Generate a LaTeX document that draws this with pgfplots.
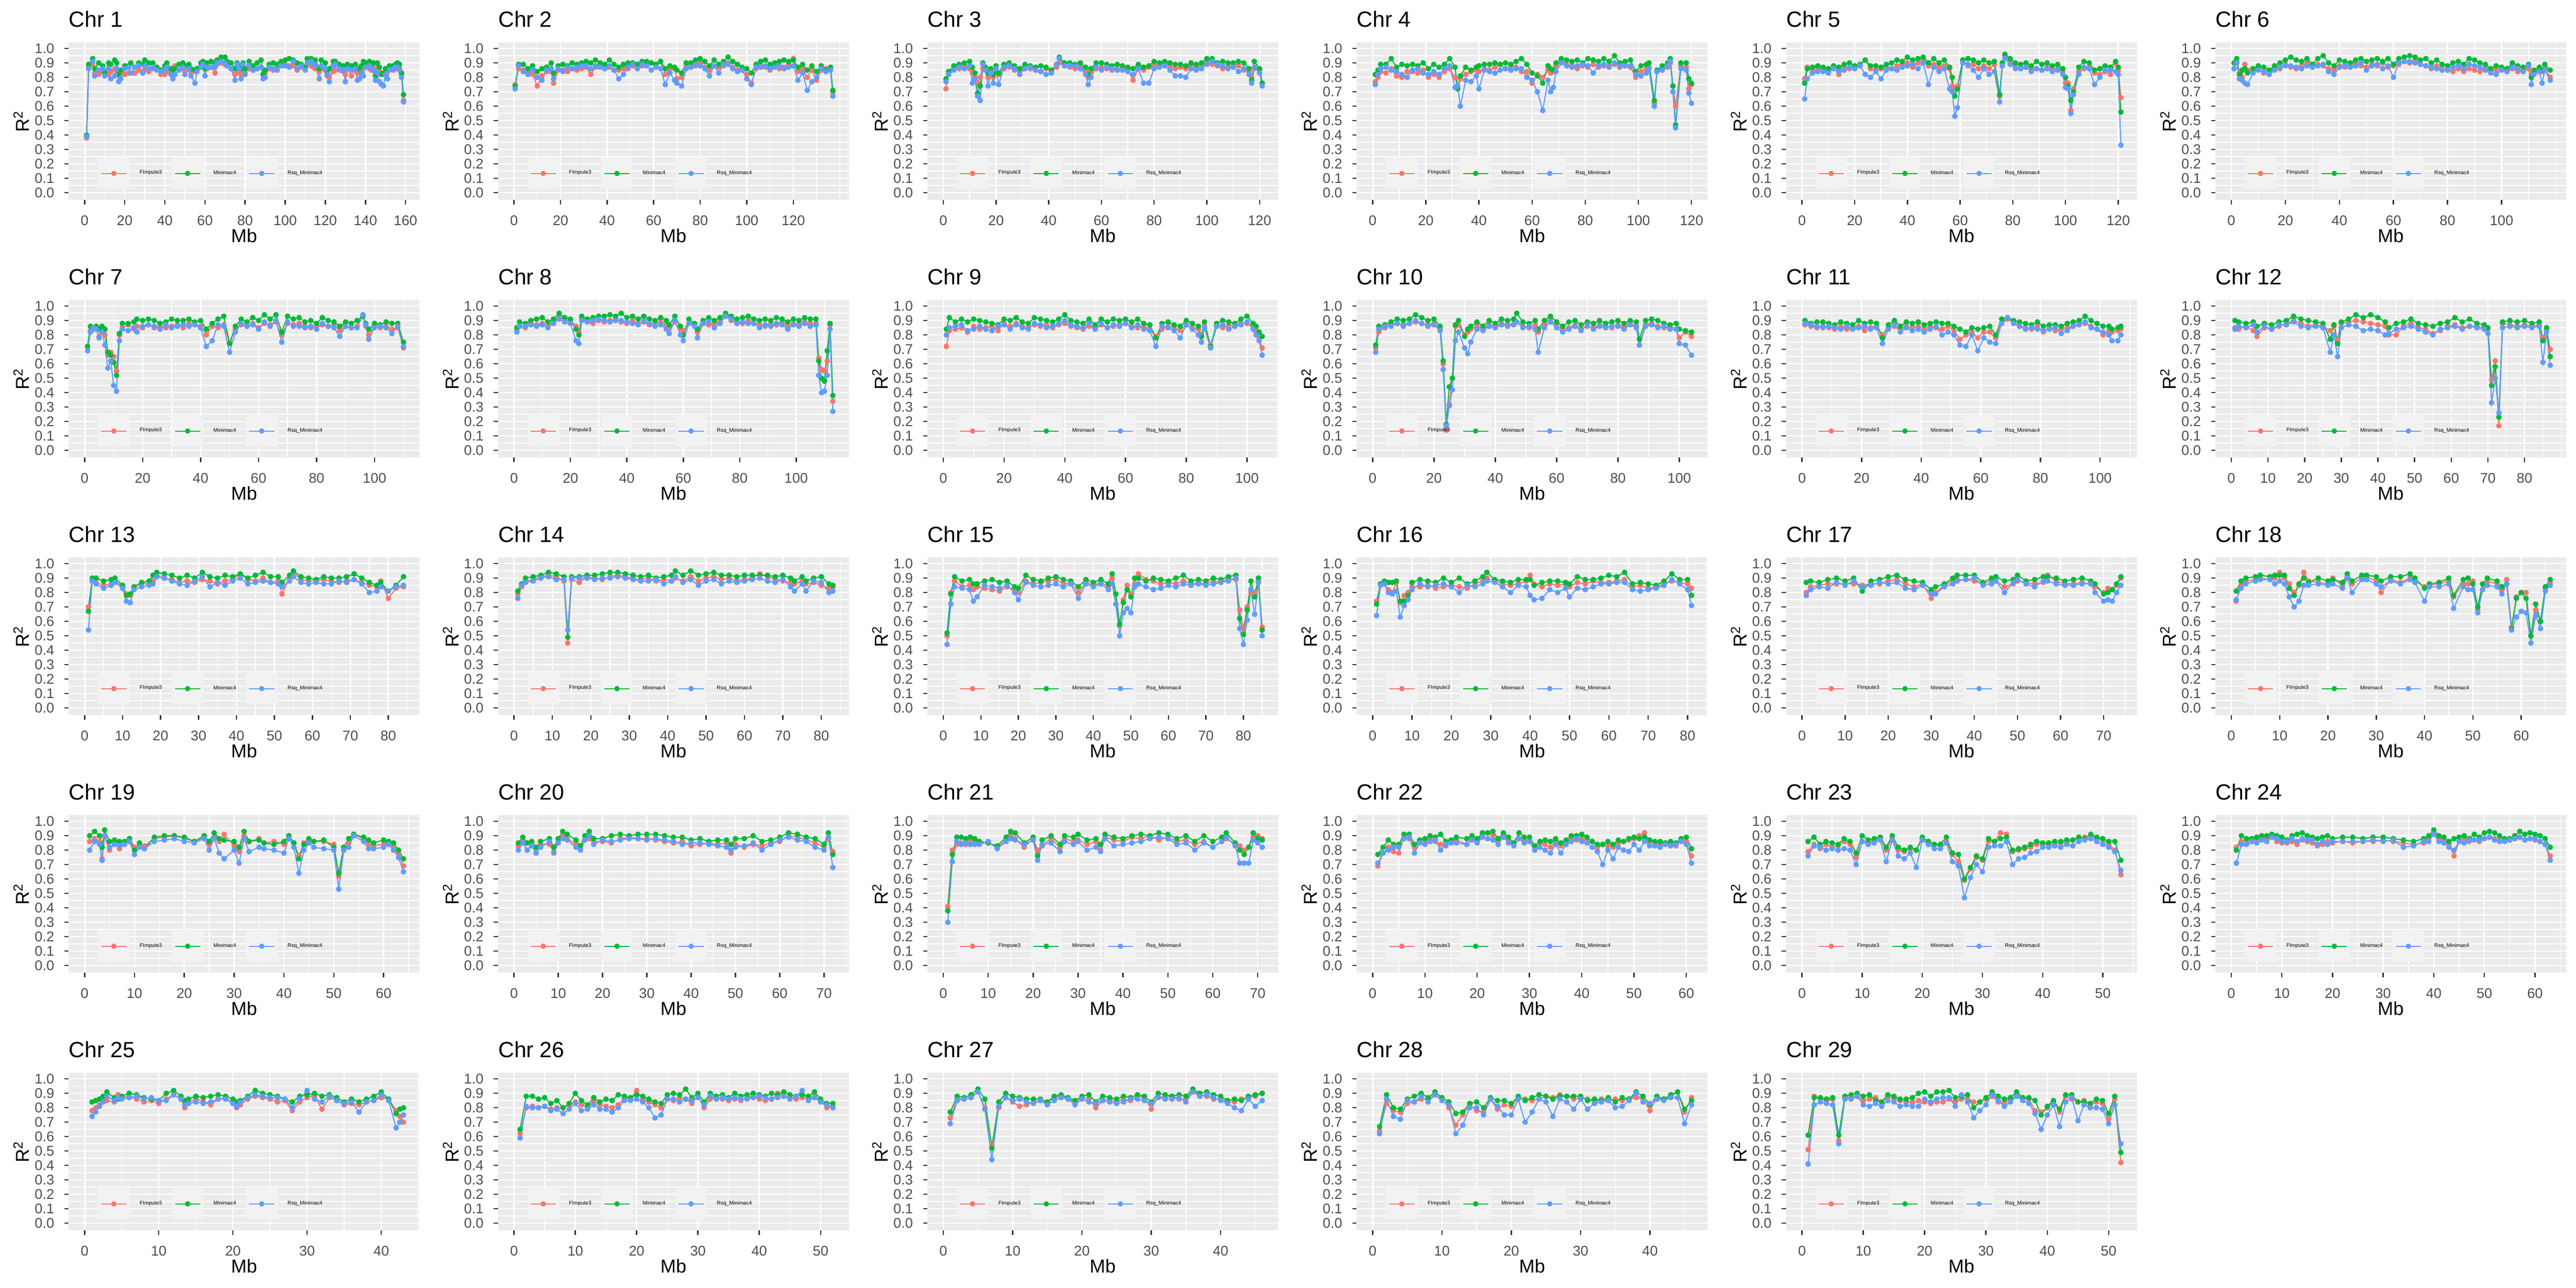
\documentclass[border=0pt]{standalone}
\usepackage{fontspec}
\setmainfont{Liberation Sans}
\usepackage{pgfplots}
\usepackage{pgfplotstable}
\pgfplotsset{compat=1.18}
\definecolor{cR}{HTML}{F8766D}
\definecolor{cG}{HTML}{00BA38}
\definecolor{cB}{HTML}{619CFF}
\definecolor{pbg}{HTML}{EBEBEB}
\definecolor{kbg}{HTML}{F2F2F2}
\definecolor{g30}{HTML}{4D4D4D}
\definecolor{g20}{HTML}{333333}

\pgfplotsset{
 every axis title shift=0pt,
 lnR/.style={cR, line width=0.75pt, no marks, forget plot},
 lnG/.style={cG, line width=0.75pt, no marks, forget plot},
 lnB/.style={cB, line width=0.75pt, no marks, forget plot},
 mkR/.style={cR, only marks, mark=*, mark size=1.65pt, mark options={draw=none, fill=cR},
   legend image code/.code={\fill[kbg] (0cm,-0.36cm) rectangle (0.72cm,0.36cm);
     \draw[cR,line width=0.75pt] (0.065cm,0cm)--(0.655cm,0cm);
     \fill[cR] (0.36cm,0cm) circle[radius=0.055cm];}},
 mkG/.style={cG, only marks, mark=*, mark size=1.65pt, mark options={draw=none, fill=cG},
   legend image code/.code={\fill[kbg] (0cm,-0.36cm) rectangle (0.72cm,0.36cm);
     \draw[cG,line width=0.75pt] (0.065cm,0cm)--(0.655cm,0cm);
     \fill[cG] (0.36cm,0cm) circle[radius=0.055cm];}},
 mkB/.style={cB, only marks, mark=*, mark size=1.65pt, mark options={draw=none, fill=cB},
   legend image code/.code={\fill[kbg] (0cm,-0.36cm) rectangle (0.72cm,0.36cm);
     \draw[cB,line width=0.75pt] (0.065cm,0cm)--(0.655cm,0cm);
     \fill[cB] (0.36cm,0cm) circle[radius=0.055cm];}},
 pan/.style={
  scale only axis, width=8.17cm, height=3.67cm, anchor=south west,
  ymin=-0.0506, ymax=1.0417,
  ytick={0,0.1,0.2,0.3,0.4,0.5,0.6,0.7,0.8,0.9,1},
  minor ytick={0.05,0.15,0.25,0.35,0.45,0.55,0.65,0.75,0.85,0.95},
  grid=both,
  major grid style={white, line width=0.85pt},
  minor grid style={white, line width=0.45pt},
  axis background/.style={fill=pbg},
  axis line style={draw=none},
  tick align=outside, tick pos=left,
  major tick length=0.1cm, minor tick length=0pt,
  major tick style={g20, line width=0.85pt},
  minor tick style={draw=none},
  scaled ticks=false,
  /pgf/number format/assume math mode=true,
  ticklabel style={g30, font=\fontsize{9.3}{11}\selectfont},
  yticklabel style={/pgf/number format/.cd, fixed, fixed zerofill, precision=1, /tikz/.cd, anchor=east, inner sep=0pt, xshift=-0.23cm},
  xticklabel style={anchor=north, inner sep=0pt, yshift=-0.26cm},
  title style={at={(0,1.0981)}, anchor=base west, inner sep=0pt, font=\fontsize{14.6}{17}\selectfont},
  xlabel=Mb, ylabel={R\textsuperscript{2}},
  xlabel style={at={(axis description cs:0.5,-0.2698)}, anchor=base, inner sep=0pt, font=\fontsize{12.4}{15}\selectfont},
  ylabel style={at={(axis description cs:-0.1126,0.5)}, anchor=base, rotate=0, inner sep=0pt, font=\fontsize{12.4}{15}\selectfont},
  legend columns=3, legend cell align=left,
  legend style={at={(0.0838,0.169)}, anchor=west, draw=none, fill=none, inner sep=0pt, outer sep=0pt,
    font=\fontsize{3.5}{4.2}\selectfont, nodes={inner sep=0pt},
    /tikz/every odd column/.append style={column sep=0.235cm},
    /tikz/every even column/.append style={column sep=0.23cm}},
 }
}

\newcommand{\panel}[8]{%
\begin{axis}[pan, at={(#1cm,#2cm)}, title={Chr #3}, xmin=#4, xmax=#5, xtick={#6}, minor xtick={#7}]
\addplot[lnR] table[x=x,y=f]{#8};
\addplot[lnG] table[x=x,y=m]{#8};
\addplot[lnB] table[x=x,y=r]{#8};
\addplot[mkR] table[x=x,y=f]{#8};
\addplot[mkG] table[x=x,y=m]{#8};
\addplot[mkB] table[x=x,y=r]{#8};
\legend{FImpute3,Minimac4,Rsq\_Minimac4}
\end{axis}}

\pgfplotstableread{
x f m r
1 0.38 0.40 0.39
2 0.87 0.89 0.86
4 0.89 0.93 0.91
5 0.83 0.86 0.81
7 0.82 0.90 0.85
9 0.84 0.88 0.86
10 0.83 0.83 0.81
12 0.82 0.90 0.86
13 0.84 0.89 0.79
15 0.86 0.92 0.81
16 0.84 0.90 0.86
17 0.83 0.82 0.77
18 0.84 0.85 0.79
20 0.82 0.88 0.86
22 0.83 0.88 0.87
23 0.83 0.90 0.83
25 0.83 0.87 0.87
27 0.85 0.90 0.88
29 0.84 0.89 0.83
30 0.85 0.92 0.88
32 0.84 0.90 0.86
34 0.86 0.90 0.87
36 0.86 0.87 0.85
38 0.82 0.85 0.84
40 0.82 0.88 0.85
41 0.84 0.90 0.87
43 0.85 0.86 0.82
44 0.86 0.83 0.79
45 0.88 0.86 0.82
47 0.85 0.89 0.85
49 0.86 0.90 0.87
50 0.84 0.88 0.82
52 0.86 0.89 0.86
53 0.84 0.86 0.81
55 0.84 0.85 0.76
56 0.85 0.86 0.84
58 0.87 0.90 0.87
59 0.87 0.91 0.89
60 0.86 0.86 0.81
61 0.86 0.90 0.87
63 0.87 0.91 0.87
65 0.83 0.90 0.87
66 0.89 0.92 0.90
68 0.90 0.94 0.91
70 0.89 0.94 0.90
71 0.88 0.91 0.88
73 0.86 0.90 0.86
75 0.82 0.86 0.78
76 0.87 0.90 0.89
77 0.84 0.88 0.86
78 0.82 0.86 0.79
79 0.86 0.90 0.89
80 0.83 0.86 0.82
82 0.86 0.91 0.88
84 0.85 0.88 0.85
86 0.86 0.90 0.86
88 0.87 0.92 0.87
89 0.82 0.82 0.79
90 0.83 0.85 0.80
92 0.86 0.89 0.87
94 0.85 0.90 0.86
96 0.86 0.89 0.85
98 0.88 0.91 0.88
100 0.89 0.92 0.88
102 0.88 0.93 0.87
104 0.88 0.92 0.91
106 0.85 0.90 0.86
108 0.87 0.89 0.88
110 0.86 0.87 0.85
111 0.89 0.93 0.90
113 0.88 0.93 0.91
114 0.87 0.90 0.89
115 0.86 0.92 0.88
117 0.84 0.86 0.79
118 0.86 0.92 0.88
120 0.85 0.90 0.86
121 0.81 0.83 0.82
122 0.80 0.86 0.77
124 0.84 0.91 0.88
125 0.85 0.91 0.89
127 0.85 0.89 0.86
129 0.84 0.88 0.85
130 0.82 0.86 0.77
131 0.86 0.89 0.86
133 0.81 0.88 0.85
135 0.85 0.89 0.86
136 0.83 0.86 0.78
137 0.83 0.86 0.79
138 0.84 0.88 0.83
139 0.87 0.91 0.81
140 0.87 0.90 0.87
142 0.86 0.91 0.88
143 0.85 0.89 0.86
144 0.86 0.90 0.85
145 0.83 0.81 0.78
146 0.87 0.90 0.83
147 0.84 0.87 0.77
148 0.83 0.82 0.75
149 0.82 0.83 0.74
150 0.82 0.86 0.82
151 0.84 0.86 0.79
152 0.85 0.88 0.85
154 0.85 0.88 0.86
155 0.86 0.89 0.87
156 0.87 0.90 0.87
157 0.86 0.89 0.85
158 0.82 0.83 0.80
159 0.64 0.68 0.63
}\chrA

\pgfplotstableread{
x f m r
0.5 0.75 0.74 0.72
2 0.86 0.89 0.88
4 0.85 0.89 0.84
6 0.83 0.86 0.82
8 0.82 0.88 0.85
10 0.74 0.84 0.80
12 0.81 0.86 0.78
14 0.84 0.87 0.85
16 0.84 0.90 0.86
17 0.76 0.83 0.79
19 0.85 0.88 0.86
21 0.85 0.89 0.84
23 0.84 0.88 0.87
25 0.86 0.90 0.86
27 0.85 0.89 0.87
29 0.86 0.90 0.88
31 0.87 0.91 0.88
33 0.82 0.90 0.86
35 0.87 0.92 0.88
37 0.88 0.90 0.87
39 0.86 0.89 0.86
41 0.87 0.92 0.88
43 0.85 0.89 0.85
45 0.85 0.87 0.79
47 0.86 0.89 0.82
49 0.86 0.90 0.87
51 0.88 0.90 0.89
53 0.87 0.89 0.86
55 0.88 0.91 0.89
57 0.89 0.91 0.88
59 0.90 0.90 0.85
61 0.88 0.89 0.87
63 0.91 0.91 0.86
65 0.82 0.86 0.75
67 0.86 0.88 0.83
69 0.86 0.87 0.78
70 0.79 0.85 0.76
72 0.80 0.83 0.74
74 0.88 0.90 0.86
76 0.87 0.90 0.87
78 0.88 0.92 0.89
80 0.90 0.93 0.88
82 0.87 0.91 0.86
84 0.85 0.88 0.81
86 0.88 0.92 0.88
88 0.87 0.89 0.83
90 0.88 0.91 0.89
92 0.90 0.94 0.89
94 0.87 0.91 0.86
96 0.85 0.89 0.84
98 0.86 0.87 0.85
100 0.82 0.86 0.79
102 0.76 0.83 0.75
104 0.86 0.89 0.87
106 0.88 0.91 0.87
108 0.87 0.92 0.88
110 0.85 0.89 0.86
112 0.88 0.90 0.87
114 0.86 0.91 0.88
116 0.87 0.92 0.86
118 0.89 0.91 0.87
120 0.93 0.92 0.88
122 0.84 0.87 0.78
124 0.86 0.89 0.83
126 0.80 0.85 0.71
128 0.85 0.88 0.77
130 0.78 0.84 0.80
132 0.85 0.88 0.86
134 0.86 0.85 0.84
136 0.86 0.87 0.85
137 0.70 0.71 0.67
}\chrB

\pgfplotstableread{
x f m r
1 0.72 0.79 0.77
2 0.84 0.84 0.82
4 0.86 0.88 0.85
6 0.86 0.89 0.87
8 0.88 0.90 0.86
10 0.86 0.91 0.88
11 0.83 0.87 0.76
12 0.80 0.83 0.79
13 0.76 0.69 0.67
14 0.80 0.74 0.64
15 0.86 0.90 0.89
16 0.85 0.87 0.85
17 0.80 0.83 0.74
18 0.84 0.86 0.83
19 0.80 0.82 0.76
20 0.86 0.88 0.86
21 0.82 0.83 0.75
23 0.86 0.89 0.87
25 0.87 0.90 0.88
27 0.85 0.88 0.86
29 0.84 0.86 0.82
31 0.86 0.89 0.86
33 0.86 0.88 0.87
35 0.85 0.87 0.85
37 0.84 0.88 0.84
39 0.86 0.87 0.82
41 0.84 0.85 0.83
43 0.87 0.89 0.89
44 0.90 0.94 0.93
46 0.88 0.90 0.88
48 0.87 0.90 0.88
50 0.86 0.89 0.88
52 0.87 0.90 0.86
54 0.85 0.87 0.82
55 0.80 0.82 0.75
56 0.84 0.86 0.80
58 0.86 0.90 0.87
60 0.87 0.90 0.85
62 0.86 0.89 0.87
64 0.85 0.88 0.86
66 0.86 0.89 0.85
68 0.86 0.88 0.85
70 0.85 0.87 0.84
72 0.78 0.86 0.82
74 0.86 0.89 0.86
76 0.85 0.87 0.76
78 0.87 0.88 0.76
80 0.88 0.91 0.86
82 0.89 0.90 0.87
84 0.90 0.91 0.88
86 0.88 0.90 0.85
88 0.86 0.89 0.81
90 0.87 0.89 0.81
92 0.86 0.88 0.80
94 0.88 0.90 0.86
96 0.87 0.89 0.85
98 0.88 0.90 0.86
100 0.92 0.93 0.89
102 0.89 0.93 0.91
104 0.88 0.90 0.89
106 0.86 0.91 0.88
108 0.87 0.90 0.86
110 0.89 0.90 0.87
112 0.88 0.91 0.84
114 0.85 0.90 0.86
116 0.84 0.86 0.82
117 0.80 0.78 0.76
118 0.86 0.91 0.87
120 0.85 0.86 0.83
121 0.76 0.76 0.74
}\chrC

\pgfplotstableread{
x f m r
1 0.77 0.82 0.75
2 0.80 0.85 0.82
3 0.84 0.89 0.86
5 0.83 0.89 0.87
7 0.86 0.93 0.85
9 0.81 0.87 0.84
11 0.80 0.89 0.82
13 0.84 0.88 0.80
15 0.84 0.89 0.85
17 0.83 0.88 0.86
19 0.85 0.90 0.83
21 0.80 0.86 0.82
23 0.82 0.89 0.84
25 0.80 0.87 0.82
27 0.84 0.89 0.86
29 0.86 0.93 0.88
31 0.80 0.87 0.73
32 0.73 0.72 0.74
33 0.79 0.81 0.60
35 0.82 0.87 0.78
37 0.84 0.85 0.77
39 0.85 0.87 0.81
40 0.84 0.88 0.72
42 0.86 0.89 0.85
44 0.85 0.89 0.84
46 0.87 0.90 0.83
48 0.89 0.89 0.85
50 0.86 0.90 0.86
52 0.88 0.89 0.85
54 0.87 0.91 0.86
56 0.84 0.93 0.86
58 0.84 0.89 0.80
60 0.76 0.83 0.78
62 0.82 0.81 0.70
64 0.80 0.76 0.57
66 0.85 0.88 0.78
67 0.83 0.86 0.70
68 0.84 0.85 0.73
69 0.88 0.90 0.84
71 0.91 0.93 0.90
73 0.89 0.92 0.88
75 0.88 0.91 0.87
77 0.86 0.92 0.88
79 0.88 0.90 0.89
81 0.87 0.93 0.88
83 0.89 0.92 0.83
85 0.87 0.91 0.88
87 0.88 0.93 0.89
89 0.88 0.91 0.87
91 0.89 0.95 0.90
93 0.87 0.90 0.88
95 0.89 0.91 0.88
97 0.87 0.92 0.88
99 0.80 0.84 0.82
101 0.84 0.88 0.81
103 0.86 0.89 0.83
104 0.87 0.90 0.86
106 0.62 0.64 0.60
107 0.84 0.85 0.84
109 0.85 0.88 0.85
111 0.87 0.90 0.88
112 0.90 0.93 0.91
113 0.74 0.74 0.70
114 0.60 0.47 0.45
116 0.88 0.90 0.86
118 0.87 0.90 0.85
119 0.72 0.79 0.69
120 0.75 0.76 0.62
}\chrD

\pgfplotstableread{
x f m r
1 0.79 0.76 0.65
2 0.87 0.86 0.79
4 0.84 0.87 0.83
6 0.86 0.88 0.84
8 0.85 0.87 0.84
10 0.84 0.86 0.83
12 0.87 0.88 0.86
14 0.82 0.87 0.84
16 0.86 0.89 0.85
18 0.86 0.90 0.87
20 0.87 0.88 0.86
22 0.88 0.89 0.88
24 0.92 0.92 0.82
26 0.86 0.88 0.80
28 0.85 0.88 0.84
30 0.86 0.87 0.79
32 0.87 0.89 0.85
34 0.86 0.90 0.86
36 0.88 0.92 0.85
38 0.89 0.91 0.87
40 0.90 0.94 0.88
42 0.87 0.92 0.89
44 0.90 0.93 0.86
46 0.93 0.94 0.90
48 0.88 0.90 0.75
50 0.89 0.93 0.87
52 0.87 0.90 0.84
54 0.88 0.92 0.86
56 0.86 0.87 0.72
57 0.74 0.80 0.70
58 0.72 0.67 0.53
59 0.74 0.72 0.59
61 0.92 0.92 0.90
63 0.88 0.93 0.89
65 0.89 0.92 0.85
67 0.86 0.90 0.80
69 0.88 0.92 0.86
71 0.86 0.90 0.82
73 0.89 0.91 0.84
75 0.67 0.68 0.63
76 0.88 0.90 0.88
77 0.95 0.96 0.93
79 0.91 0.93 0.89
81 0.88 0.90 0.86
83 0.86 0.89 0.86
85 0.87 0.90 0.87
87 0.86 0.88 0.84
89 0.86 0.91 0.86
91 0.85 0.89 0.85
93 0.87 0.90 0.86
95 0.85 0.88 0.84
97 0.86 0.89 0.85
99 0.84 0.86 0.82
100 0.76 0.80 0.73
101 0.76 0.74 0.72
102 0.57 0.64 0.55
103 0.72 0.70 0.68
105 0.84 0.87 0.82
107 0.86 0.91 0.87
109 0.87 0.90 0.86
111 0.83 0.85 0.75
113 0.82 0.86 0.80
115 0.84 0.88 0.85
117 0.82 0.87 0.85
119 0.90 0.91 0.84
120 0.85 0.87 0.82
121 0.66 0.56 0.33
}\chrE

\pgfplotstableread{
x f m r
1 0.86 0.90 0.86
2 0.91 0.93 0.90
3 0.83 0.82 0.79
4 0.80 0.85 0.78
5 0.89 0.86 0.76
6 0.85 0.83 0.75
8 0.84 0.86 0.83
10 0.86 0.88 0.85
12 0.83 0.87 0.84
14 0.82 0.85 0.82
16 0.88 0.88 0.85
18 0.86 0.90 0.87
20 0.89 0.92 0.88
22 0.87 0.94 0.88
24 0.86 0.92 0.87
26 0.88 0.91 0.86
28 0.90 0.93 0.88
30 0.87 0.89 0.87
32 0.89 0.93 0.88
34 0.88 0.95 0.89
36 0.86 0.90 0.84
38 0.85 0.88 0.82
40 0.88 0.92 0.87
42 0.87 0.91 0.88
44 0.89 0.90 0.87
46 0.90 0.92 0.88
48 0.88 0.93 0.90
50 0.87 0.91 0.85
52 0.89 0.92 0.88
54 0.88 0.93 0.89
56 0.90 0.91 0.86
58 0.87 0.93 0.88
60 0.88 0.89 0.80
62 0.89 0.93 0.90
64 0.91 0.94 0.91
66 0.90 0.95 0.91
68 0.92 0.94 0.90
70 0.89 0.92 0.89
72 0.88 0.93 0.88
74 0.86 0.90 0.87
76 0.88 0.92 0.86
78 0.86 0.89 0.85
80 0.85 0.88 0.85
82 0.84 0.90 0.87
84 0.86 0.91 0.88
86 0.84 0.89 0.86
88 0.86 0.93 0.89
90 0.85 0.92 0.88
92 0.84 0.90 0.87
94 0.86 0.89 0.85
96 0.84 0.86 0.83
98 0.85 0.88 0.82
100 0.86 0.87 0.85
102 0.84 0.86 0.84
104 0.86 0.90 0.87
106 0.84 0.88 0.86
108 0.85 0.87 0.84
110 0.86 0.89 0.88
111 0.82 0.80 0.75
112 0.84 0.85 0.82
114 0.85 0.87 0.84
115 0.84 0.85 0.76
116 0.86 0.89 0.85
118 0.80 0.85 0.78
}\chrF

\pgfplotstableread{
x f m r
1 0.72 0.72 0.69
2 0.83 0.86 0.82
3 0.84 0.85 0.85
4 0.85 0.86 0.84
5 0.79 0.84 0.78
6 0.84 0.86 0.82
7 0.80 0.84 0.73
8 0.66 0.68 0.57
9 0.68 0.66 0.62
10 0.65 0.61 0.45
11 0.55 0.52 0.41
12 0.80 0.81 0.76
13 0.85 0.88 0.84
15 0.87 0.88 0.83
17 0.84 0.89 0.85
18 0.86 0.91 0.82
20 0.85 0.90 0.86
22 0.87 0.91 0.87
24 0.85 0.90 0.86
26 0.86 0.88 0.84
28 0.85 0.89 0.87
30 0.86 0.91 0.85
32 0.87 0.90 0.86
34 0.85 0.90 0.87
36 0.88 0.91 0.86
38 0.87 0.89 0.87
40 0.86 0.90 0.85
42 0.80 0.84 0.72
44 0.86 0.88 0.76
46 0.85 0.91 0.87
48 0.87 0.93 0.86
50 0.75 0.74 0.68
52 0.84 0.86 0.82
54 0.87 0.91 0.88
56 0.86 0.89 0.86
58 0.88 0.92 0.87
60 0.85 0.90 0.84
62 0.88 0.94 0.89
64 0.87 0.91 0.86
66 0.89 0.94 0.90
68 0.80 0.82 0.75
70 0.88 0.93 0.89
72 0.87 0.91 0.86
74 0.88 0.92 0.86
76 0.86 0.89 0.85
78 0.85 0.90 0.86
80 0.86 0.88 0.84
82 0.87 0.92 0.88
84 0.86 0.90 0.86
86 0.87 0.89 0.85
88 0.83 0.86 0.79
90 0.86 0.89 0.86
92 0.85 0.88 0.85
94 0.86 0.90 0.85
96 0.93 0.93 0.94
97 0.86 0.88 0.87
98 0.80 0.84 0.77
100 0.86 0.88 0.85
102 0.85 0.87 0.86
104 0.86 0.89 0.85
106 0.84 0.88 0.81
108 0.85 0.88 0.86
110 0.71 0.75 0.72
}\chrG

\pgfplotstableread{
x f m r
1 0.83 0.85 0.82
2 0.86 0.89 0.86
4 0.85 0.88 0.86
6 0.88 0.90 0.87
8 0.87 0.91 0.86
10 0.88 0.92 0.87
12 0.86 0.89 0.85
14 0.89 0.91 0.88
16 0.93 0.95 0.91
18 0.90 0.92 0.89
20 0.90 0.91 0.88
22 0.86 0.84 0.76
23 0.82 0.80 0.74
24 0.91 0.93 0.90
26 0.89 0.91 0.89
28 0.88 0.92 0.90
30 0.90 0.93 0.91
32 0.89 0.93 0.90
34 0.90 0.94 0.89
36 0.91 0.93 0.90
38 0.89 0.95 0.90
40 0.88 0.92 0.89
42 0.90 0.93 0.88
44 0.88 0.91 0.87
46 0.89 0.93 0.90
48 0.87 0.91 0.88
50 0.88 0.90 0.86
52 0.89 0.92 0.87
54 0.87 0.90 0.84
55 0.85 0.87 0.81
57 0.89 0.93 0.90
59 0.84 0.86 0.80
60 0.83 0.80 0.76
62 0.88 0.91 0.88
64 0.86 0.88 0.86
65 0.82 0.84 0.78
67 0.88 0.90 0.88
69 0.87 0.92 0.89
71 0.88 0.90 0.85
73 0.89 0.92 0.88
75 0.93 0.95 0.93
77 0.90 0.93 0.91
79 0.89 0.91 0.88
81 0.88 0.92 0.89
83 0.90 0.93 0.88
85 0.88 0.91 0.88
87 0.87 0.90 0.85
89 0.86 0.91 0.87
91 0.88 0.90 0.86
93 0.87 0.92 0.88
95 0.89 0.91 0.87
97 0.86 0.89 0.84
99 0.88 0.91 0.87
101 0.87 0.90 0.86
103 0.89 0.92 0.88
105 0.88 0.91 0.86
107 0.88 0.91 0.87
108 0.64 0.62 0.52
109 0.56 0.50 0.40
110 0.55 0.48 0.41
111 0.62 0.69 0.52
112 0.87 0.88 0.84
113 0.34 0.38 0.27
}\chrH

\pgfplotstableread{
x f m r
1 0.72 0.84 0.80
2 0.83 0.92 0.85
4 0.84 0.89 0.86
6 0.85 0.91 0.87
8 0.82 0.89 0.83
10 0.86 0.91 0.84
12 0.84 0.90 0.86
14 0.85 0.89 0.84
16 0.86 0.88 0.83
18 0.83 0.87 0.86
20 0.88 0.91 0.87
22 0.86 0.90 0.84
24 0.88 0.92 0.87
26 0.86 0.89 0.85
28 0.85 0.88 0.84
30 0.87 0.92 0.88
32 0.86 0.91 0.87
34 0.87 0.90 0.85
36 0.85 0.89 0.86
38 0.87 0.91 0.88
40 0.88 0.94 0.90
42 0.86 0.90 0.87
44 0.85 0.89 0.86
46 0.84 0.88 0.85
48 0.86 0.91 0.88
50 0.84 0.87 0.84
52 0.87 0.91 0.88
54 0.85 0.89 0.85
56 0.86 0.91 0.87
58 0.87 0.90 0.86
60 0.88 0.91 0.88
62 0.86 0.89 0.85
64 0.85 0.91 0.87
66 0.86 0.88 0.84
68 0.84 0.87 0.83
70 0.79 0.78 0.72
72 0.84 0.88 0.86
74 0.86 0.89 0.85
76 0.85 0.87 0.83
78 0.83 0.86 0.78
80 0.87 0.90 0.87
82 0.85 0.88 0.84
84 0.84 0.86 0.80
85 0.80 0.79 0.75
86 0.86 0.89 0.85
88 0.73 0.72 0.71
90 0.86 0.88 0.86
92 0.85 0.90 0.87
94 0.87 0.89 0.84
96 0.86 0.88 0.86
98 0.88 0.91 0.87
100 0.88 0.93 0.89
102 0.86 0.88 0.84
103 0.82 0.86 0.80
104 0.78 0.82 0.76
105 0.71 0.79 0.66
}\chrI

\pgfplotstableread{
x f m r
1 0.71 0.73 0.68
2 0.82 0.86 0.84
4 0.85 0.87 0.86
6 0.87 0.89 0.86
8 0.88 0.91 0.88
10 0.87 0.90 0.86
12 0.88 0.91 0.88
14 0.89 0.94 0.90
16 0.88 0.92 0.88
18 0.87 0.90 0.86
20 0.88 0.91 0.87
22 0.84 0.86 0.83
23 0.60 0.62 0.56
24 0.14 0.18 0.17
25 0.32 0.44 0.31
26 0.50 0.50 0.42
27 0.86 0.87 0.76
28 0.87 0.90 0.82
30 0.80 0.79 0.71
31 0.82 0.84 0.67
32 0.84 0.86 0.75
34 0.86 0.89 0.84
36 0.84 0.86 0.83
38 0.87 0.90 0.86
40 0.86 0.88 0.85
42 0.88 0.91 0.87
44 0.87 0.90 0.86
46 0.88 0.91 0.87
47 0.89 0.95 0.89
49 0.86 0.89 0.85
51 0.85 0.88 0.86
53 0.87 0.90 0.84
54 0.82 0.84 0.68
56 0.88 0.90 0.85
58 0.91 0.93 0.89
60 0.86 0.89 0.85
62 0.84 0.86 0.82
64 0.85 0.89 0.84
66 0.87 0.90 0.86
68 0.84 0.87 0.83
70 0.86 0.89 0.87
72 0.85 0.88 0.84
74 0.87 0.90 0.86
76 0.86 0.88 0.85
78 0.85 0.89 0.86
80 0.87 0.90 0.86
82 0.86 0.88 0.84
84 0.88 0.90 0.87
86 0.86 0.89 0.85
87 0.73 0.77 0.73
89 0.87 0.90 0.86
91 0.88 0.91 0.87
93 0.86 0.90 0.85
95 0.85 0.88 0.86
97 0.86 0.87 0.84
99 0.84 0.88 0.84
100 0.78 0.84 0.74
102 0.82 0.83 0.73
104 0.79 0.82 0.66
}\chrJ

\pgfplotstableread{
x f m r
1 0.87 0.90 0.88
3 0.86 0.88 0.87
5 0.85 0.89 0.86
7 0.86 0.89 0.85
9 0.85 0.88 0.86
11 0.84 0.87 0.85
13 0.86 0.89 0.84
15 0.84 0.88 0.86
17 0.85 0.87 0.84
19 0.86 0.90 0.85
21 0.83 0.88 0.86
23 0.85 0.89 0.84
25 0.86 0.88 0.85
27 0.80 0.78 0.74
29 0.85 0.87 0.84
31 0.86 0.90 0.87
33 0.84 0.86 0.82
35 0.86 0.89 0.85
37 0.85 0.88 0.83
39 0.86 0.89 0.84
41 0.84 0.87 0.82
43 0.86 0.88 0.84
45 0.85 0.89 0.86
47 0.84 0.88 0.80
49 0.86 0.88 0.82
51 0.83 0.86 0.80
53 0.77 0.84 0.73
55 0.80 0.82 0.72
57 0.82 0.85 0.80
59 0.78 0.84 0.69
61 0.82 0.85 0.78
63 0.82 0.86 0.75
65 0.78 0.80 0.74
67 0.88 0.91 0.88
69 0.91 0.92 0.92
71 0.89 0.90 0.88
73 0.86 0.89 0.86
75 0.85 0.88 0.84
77 0.84 0.87 0.85
79 0.86 0.89 0.84
81 0.82 0.86 0.83
83 0.85 0.87 0.84
85 0.83 0.87 0.85
87 0.84 0.86 0.81
89 0.85 0.88 0.83
91 0.86 0.89 0.86
93 0.88 0.90 0.87
95 0.88 0.93 0.89
97 0.86 0.90 0.85
99 0.84 0.88 0.84
101 0.80 0.86 0.82
103 0.83 0.86 0.80
104 0.82 0.84 0.76
106 0.83 0.85 0.76
107 0.84 0.86 0.80
}\chrK

\pgfplotstableread{
x f m r
1 0.85 0.90 0.84
2 0.84 0.89 0.86
4 0.86 0.88 0.85
6 0.83 0.89 0.87
7 0.79 0.86 0.82
9 0.85 0.88 0.86
11 0.84 0.87 0.84
13 0.86 0.89 0.87
15 0.88 0.90 0.87
17 0.90 0.93 0.89
19 0.88 0.91 0.86
21 0.86 0.90 0.85
23 0.87 0.89 0.86
25 0.86 0.88 0.85
27 0.83 0.77 0.68
28 0.86 0.87 0.80
29 0.77 0.74 0.65
30 0.88 0.89 0.85
32 0.89 0.91 0.87
34 0.90 0.94 0.86
36 0.89 0.92 0.83
38 0.88 0.94 0.84
40 0.87 0.92 0.83
42 0.86 0.89 0.80
43 0.80 0.85 0.81
45 0.80 0.88 0.84
47 0.86 0.89 0.85
49 0.88 0.91 0.86
51 0.85 0.88 0.84
53 0.84 0.87 0.82
55 0.81 0.86 0.80
57 0.83 0.88 0.84
59 0.86 0.89 0.85
61 0.87 0.92 0.86
63 0.85 0.89 0.84
65 0.86 0.91 0.86
67 0.86 0.88 0.85
69 0.85 0.87 0.84
70 0.84 0.85 0.81
71 0.49 0.45 0.33
72 0.62 0.58 0.50
73 0.17 0.23 0.26
74 0.88 0.89 0.85
76 0.87 0.90 0.86
78 0.86 0.89 0.85
80 0.87 0.90 0.86
82 0.86 0.88 0.85
84 0.87 0.89 0.86
85 0.78 0.76 0.61
86 0.84 0.85 0.82
87 0.70 0.65 0.59
}\chrL

\pgfplotstableread{
x f m r
1 0.70 0.67 0.54
2 0.88 0.90 0.88
3 0.87 0.90 0.86
5 0.85 0.88 0.83
7 0.86 0.89 0.85
8 0.88 0.90 0.87
10 0.84 0.85 0.83
11 0.79 0.78 0.74
12 0.78 0.79 0.73
13 0.84 0.84 0.82
15 0.86 0.87 0.84
17 0.86 0.88 0.85
18 0.88 0.92 0.86
19 0.92 0.94 0.91
21 0.90 0.93 0.90
23 0.89 0.92 0.88
25 0.87 0.90 0.86
27 0.88 0.92 0.85
29 0.87 0.90 0.88
31 0.89 0.94 0.91
33 0.88 0.91 0.84
35 0.86 0.90 0.87
37 0.88 0.92 0.85
39 0.89 0.91 0.88
41 0.93 0.93 0.90
43 0.89 0.90 0.86
45 0.88 0.92 0.87
47 0.90 0.94 0.88
49 0.87 0.91 0.87
51 0.88 0.91 0.86
52 0.79 0.87 0.84
54 0.90 0.92 0.88
55 0.94 0.95 0.91
57 0.89 0.91 0.87
59 0.88 0.90 0.86
61 0.88 0.89 0.87
63 0.89 0.91 0.86
65 0.88 0.90 0.86
67 0.87 0.90 0.88
69 0.88 0.91 0.87
71 0.89 0.93 0.89
73 0.87 0.90 0.86
75 0.85 0.87 0.80
77 0.84 0.85 0.81
78 0.88 0.87 0.84
80 0.76 0.81 0.81
82 0.83 0.85 0.84
84 0.84 0.91 0.85
}\chrM

\pgfplotstableread{
x f m r
1 0.79 0.81 0.76
2 0.84 0.86 0.85
3 0.88 0.90 0.87
5 0.89 0.91 0.88
7 0.91 0.92 0.90
9 0.92 0.94 0.91
11 0.91 0.93 0.89
13 0.88 0.91 0.89
14 0.45 0.49 0.54
15 0.89 0.91 0.90
17 0.87 0.91 0.90
19 0.91 0.92 0.90
21 0.90 0.92 0.89
23 0.89 0.93 0.90
25 0.91 0.94 0.90
27 0.92 0.94 0.91
29 0.91 0.93 0.90
31 0.90 0.92 0.89
33 0.89 0.91 0.88
35 0.90 0.92 0.88
37 0.88 0.90 0.89
39 0.89 0.91 0.86
41 0.88 0.92 0.88
42 0.90 0.95 0.91
44 0.88 0.92 0.87
46 0.91 0.95 0.89
48 0.88 0.92 0.85
50 0.90 0.93 0.88
52 0.91 0.94 0.89
54 0.89 0.92 0.86
56 0.90 0.92 0.88
58 0.88 0.91 0.87
60 0.89 0.92 0.88
62 0.90 0.92 0.89
64 0.93 0.92 0.90
66 0.91 0.92 0.88
68 0.89 0.91 0.87
70 0.88 0.92 0.89
72 0.87 0.90 0.84
73 0.86 0.88 0.81
75 0.88 0.91 0.86
76 0.86 0.88 0.81
78 0.87 0.90 0.88
80 0.85 0.91 0.87
82 0.83 0.86 0.80
83 0.84 0.85 0.81
}\chrN

\pgfplotstableread{
x f m r
1 0.50 0.52 0.44
2 0.80 0.79 0.72
3 0.88 0.91 0.84
5 0.84 0.88 0.83
7 0.85 0.89 0.82
8 0.82 0.86 0.74
9 0.84 0.86 0.77
11 0.83 0.88 0.85
13 0.82 0.89 0.84
15 0.81 0.87 0.83
17 0.84 0.88 0.85
19 0.82 0.84 0.80
20 0.80 0.83 0.75
22 0.88 0.92 0.87
24 0.86 0.89 0.85
26 0.87 0.88 0.84
28 0.88 0.90 0.85
30 0.89 0.91 0.86
32 0.86 0.89 0.84
34 0.87 0.88 0.86
36 0.80 0.84 0.76
38 0.87 0.89 0.86
40 0.85 0.87 0.84
42 0.87 0.89 0.86
44 0.84 0.86 0.82
45 0.90 0.93 0.86
46 0.72 0.79 0.72
47 0.57 0.58 0.50
48 0.75 0.73 0.66
49 0.85 0.82 0.69
50 0.79 0.77 0.66
51 0.86 0.90 0.84
52 0.93 0.90 0.86
54 0.89 0.88 0.84
56 0.88 0.90 0.82
58 0.86 0.89 0.83
60 0.87 0.88 0.85
62 0.86 0.90 0.84
64 0.88 0.92 0.86
66 0.86 0.88 0.85
68 0.87 0.89 0.86
70 0.86 0.88 0.85
72 0.88 0.90 0.86
74 0.87 0.89 0.87
76 0.90 0.91 0.88
78 0.89 0.92 0.90
79 0.68 0.62 0.55
80 0.55 0.51 0.44
81 0.70 0.68 0.61
82 0.80 0.88 0.82
83 0.80 0.77 0.65
84 0.88 0.90 0.87
85 0.56 0.54 0.50
}\chrO

\pgfplotstableread{
x f m r
1 0.74 0.72 0.64
2 0.86 0.86 0.85
3 0.86 0.88 0.86
4 0.82 0.87 0.80
5 0.80 0.87 0.79
6 0.87 0.88 0.81
7 0.73 0.74 0.63
8 0.78 0.74 0.71
9 0.80 0.78 0.75
10 0.84 0.87 0.82
12 0.84 0.89 0.86
14 0.85 0.88 0.84
16 0.83 0.87 0.85
18 0.84 0.90 0.86
20 0.85 0.87 0.84
22 0.84 0.90 0.80
24 0.83 0.86 0.85
26 0.86 0.88 0.84
28 0.88 0.91 0.86
29 0.90 0.94 0.88
31 0.88 0.89 0.87
33 0.86 0.88 0.84
35 0.85 0.87 0.80
37 0.86 0.89 0.85
39 0.88 0.89 0.84
40 0.92 0.89 0.78
41 0.86 0.85 0.75
43 0.84 0.87 0.76
45 0.86 0.88 0.82
47 0.85 0.88 0.80
49 0.86 0.87 0.83
50 0.84 0.86 0.77
52 0.87 0.91 0.83
54 0.86 0.89 0.82
56 0.88 0.89 0.84
58 0.87 0.90 0.86
60 0.87 0.92 0.86
62 0.88 0.91 0.87
64 0.89 0.94 0.87
66 0.84 0.86 0.82
68 0.85 0.87 0.81
70 0.83 0.86 0.82
72 0.84 0.85 0.83
74 0.86 0.88 0.85
76 0.88 0.93 0.89
78 0.87 0.89 0.86
80 0.86 0.89 0.82
81 0.83 0.78 0.71
}\chrP

\pgfplotstableread{
x f m r
1 0.80 0.87 0.78
2 0.84 0.88 0.82
4 0.85 0.87 0.84
6 0.86 0.89 0.83
8 0.86 0.90 0.87
10 0.86 0.88 0.85
12 0.86 0.90 0.88
14 0.85 0.81 0.84
16 0.86 0.88 0.85
18 0.86 0.89 0.87
20 0.88 0.91 0.86
22 0.89 0.92 0.87
24 0.86 0.89 0.83
26 0.84 0.88 0.82
28 0.86 0.87 0.85
30 0.76 0.82 0.79
31 0.80 0.84 0.79
33 0.85 0.86 0.84
35 0.88 0.90 0.86
36 0.89 0.92 0.88
38 0.89 0.92 0.89
40 0.88 0.92 0.90
42 0.86 0.87 0.85
44 0.88 0.90 0.86
45 0.88 0.91 0.88
47 0.84 0.88 0.80
49 0.86 0.89 0.87
50 0.88 0.92 0.89
52 0.87 0.88 0.86
54 0.86 0.89 0.84
56 0.87 0.91 0.88
57 0.92 0.91 0.88
59 0.88 0.90 0.86
61 0.86 0.88 0.85
63 0.86 0.89 0.85
65 0.87 0.90 0.86
67 0.86 0.88 0.86
68 0.84 0.86 0.80
70 0.80 0.79 0.74
71 0.83 0.80 0.75
72 0.82 0.82 0.74
73 0.85 0.86 0.80
74 0.90 0.91 0.85
}\chrQ

\pgfplotstableread{
x f m r
1 0.74 0.81 0.75
2 0.85 0.88 0.83
3 0.88 0.90 0.86
5 0.89 0.91 0.88
6 0.90 0.92 0.89
8 0.89 0.91 0.89
9 0.90 0.92 0.86
10 0.94 0.92 0.88
11 0.90 0.92 0.86
12 0.86 0.83 0.77
13 0.80 0.78 0.70
14 0.85 0.86 0.74
15 0.94 0.90 0.85
16 0.88 0.87 0.85
18 0.87 0.90 0.86
20 0.86 0.88 0.85
21 0.90 0.89 0.86
23 0.85 0.87 0.83
24 0.92 0.93 0.90
25 0.86 0.88 0.80
27 0.90 0.92 0.89
28 0.91 0.92 0.89
30 0.88 0.91 0.86
31 0.80 0.88 0.84
33 0.89 0.91 0.88
35 0.87 0.91 0.86
37 0.90 0.93 0.89
38 0.88 0.90 0.87
40 0.84 0.83 0.74
41 0.85 0.86 0.84
43 0.86 0.87 0.84
45 0.88 0.90 0.86
46 0.77 0.78 0.69
48 0.86 0.89 0.84
49 0.86 0.90 0.82
50 0.88 0.86 0.82
51 0.68 0.70 0.66
52 0.82 0.86 0.82
53 0.88 0.90 0.85
55 0.86 0.88 0.84
56 0.82 0.84 0.79
57 0.89 0.86 0.86
58 0.56 0.55 0.54
59 0.77 0.76 0.63
60 0.80 0.80 0.67
61 0.80 0.76 0.66
62 0.50 0.50 0.45
63 0.68 0.72 0.64
64 0.60 0.60 0.55
65 0.83 0.84 0.81
66 0.87 0.89 0.85
}\chrR

\pgfplotstableread{
x f m r
1 0.86 0.90 0.80
2 0.88 0.93 0.86
3 0.86 0.90 0.84
3.5 0.74 0.82 0.73
4 0.89 0.94 0.90
5 0.80 0.86 0.82
6 0.85 0.87 0.84
7 0.81 0.86 0.83
8 0.84 0.86 0.84
9 0.88 0.88 0.86
10 0.82 0.80 0.77
11 0.84 0.85 0.82
12 0.83 0.81 0.81
14 0.88 0.89 0.86
16 0.89 0.90 0.87
18 0.90 0.90 0.88
20 0.88 0.89 0.86
22 0.86 0.86 0.85
24 0.89 0.90 0.88
25 0.84 0.86 0.80
26 0.89 0.92 0.88
27 0.86 0.88 0.78
28 0.91 0.87 0.74
30 0.83 0.86 0.80
31 0.79 0.82 0.71
32 0.90 0.93 0.88
33 0.86 0.86 0.79
35 0.88 0.87 0.82
36 0.85 0.85 0.81
38 0.86 0.84 0.80
40 0.84 0.86 0.78
41 0.90 0.90 0.88
42 0.85 0.85 0.82
43 0.76 0.74 0.64
44 0.85 0.84 0.80
45 0.87 0.88 0.85
46 0.86 0.86 0.82
48 0.86 0.87 0.81
50 0.84 0.82 0.80
51 0.62 0.64 0.53
52 0.80 0.82 0.80
53 0.85 0.88 0.82
54 0.91 0.91 0.90
56 0.88 0.89 0.86
57 0.84 0.87 0.81
58 0.83 0.85 0.81
60 0.84 0.87 0.82
61 0.85 0.86 0.84
62 0.82 0.85 0.80
63 0.78 0.80 0.75
64 0.69 0.74 0.65
}\chrS

\pgfplotstableread{
x f m r
1 0.83 0.85 0.80
2 0.86 0.89 0.85
3 0.80 0.85 0.80
4 0.84 0.86 0.83
5 0.78 0.82 0.78
6 0.84 0.86 0.82
8 0.84 0.88 0.86
9 0.79 0.82 0.78
10 0.87 0.88 0.85
11 0.90 0.93 0.88
12 0.88 0.91 0.87
14 0.84 0.87 0.82
15 0.81 0.83 0.80
16 0.87 0.90 0.87
17 0.88 0.93 0.90
18 0.86 0.88 0.84
20 0.86 0.88 0.87
22 0.85 0.90 0.86
24 0.88 0.91 0.87
26 0.89 0.90 0.88
28 0.88 0.91 0.88
30 0.88 0.91 0.87
32 0.87 0.91 0.88
34 0.86 0.90 0.87
36 0.85 0.89 0.86
38 0.86 0.89 0.84
40 0.83 0.87 0.85
42 0.84 0.88 0.85
44 0.85 0.86 0.84
46 0.84 0.87 0.83
48 0.85 0.87 0.82
49 0.78 0.84 0.80
50 0.84 0.88 0.82
52 0.82 0.88 0.83
54 0.84 0.90 0.85
56 0.83 0.86 0.80
58 0.85 0.87 0.84
60 0.86 0.89 0.87
62 0.90 0.92 0.89
64 0.89 0.91 0.87
66 0.87 0.89 0.86
68 0.85 0.88 0.82
70 0.82 0.84 0.80
71 0.88 0.92 0.89
72 0.79 0.77 0.68
}\chrT

\pgfplotstableread{
x f m r
1 0.41 0.38 0.30
2 0.80 0.77 0.72
3 0.84 0.89 0.86
4 0.85 0.89 0.84
5 0.84 0.88 0.85
6 0.86 0.89 0.84
7 0.85 0.88 0.84
8 0.86 0.86 0.84
10 0.85 0.85 0.86
12 0.82 0.83 0.81
14 0.87 0.89 0.86
15 0.90 0.93 0.88
16 0.88 0.92 0.87
18 0.82 0.85 0.84
20 0.88 0.89 0.87
21 0.80 0.76 0.73
22 0.83 0.87 0.84
24 0.88 0.90 0.85
26 0.82 0.84 0.79
27 0.88 0.90 0.86
29 0.86 0.89 0.84
30 0.87 0.91 0.86
32 0.84 0.87 0.80
34 0.86 0.88 0.82
35 0.80 0.84 0.79
36 0.89 0.91 0.88
38 0.87 0.89 0.83
40 0.86 0.88 0.84
42 0.89 0.90 0.85
44 0.88 0.91 0.86
46 0.90 0.90 0.88
48 0.87 0.92 0.89
50 0.89 0.91 0.88
52 0.86 0.88 0.84
54 0.87 0.90 0.85
56 0.84 0.86 0.80
58 0.86 0.90 0.85
60 0.82 0.86 0.82
62 0.86 0.89 0.86
63 0.88 0.92 0.89
65 0.84 0.85 0.83
66 0.83 0.80 0.71
67 0.80 0.77 0.71
68 0.82 0.82 0.71
69 0.89 0.92 0.87
70 0.90 0.88 0.85
71 0.88 0.87 0.82
}\chrU

\pgfplotstableread{
x f m r
1 0.69 0.77 0.71
2 0.78 0.82 0.78
3 0.82 0.87 0.80
4 0.79 0.84 0.82
5 0.78 0.84 0.82
6 0.89 0.91 0.88
7 0.88 0.91 0.89
8 0.82 0.84 0.78
9 0.86 0.87 0.85
10 0.85 0.88 0.84
11 0.89 0.90 0.86
12 0.86 0.89 0.87
13 0.84 0.91 0.80
14 0.83 0.86 0.84
15 0.86 0.87 0.85
16 0.87 0.89 0.85
18 0.84 0.88 0.84
19 0.88 0.90 0.87
20 0.86 0.88 0.85
21 0.89 0.92 0.89
22 0.92 0.92 0.88
23 0.90 0.93 0.87
24 0.86 0.88 0.84
25 0.90 0.92 0.89
26 0.87 0.89 0.85
27 0.84 0.85 0.83
28 0.88 0.92 0.88
29 0.86 0.89 0.85
30 0.87 0.89 0.86
31 0.83 0.83 0.80
32 0.85 0.86 0.82
33 0.84 0.87 0.80
34 0.82 0.86 0.78
35 0.86 0.88 0.84
36 0.83 0.85 0.78
37 0.85 0.87 0.84
38 0.88 0.90 0.86
39 0.87 0.90 0.88
40 0.88 0.91 0.86
41 0.86 0.89 0.85
42 0.86 0.86 0.82
43 0.82 0.84 0.79
44 0.84 0.84 0.70
45 0.83 0.86 0.80
46 0.82 0.84 0.74
47 0.85 0.87 0.82
48 0.86 0.86 0.80
49 0.87 0.88 0.79
50 0.88 0.89 0.84
51 0.90 0.88 0.80
52 0.92 0.89 0.86
53 0.86 0.87 0.83
54 0.85 0.86 0.83
55 0.84 0.86 0.82
56 0.85 0.85 0.84
57 0.84 0.86 0.83
58 0.83 0.85 0.84
59 0.87 0.88 0.86
60 0.86 0.89 0.84
61 0.76 0.81 0.71
}\chrV

\pgfplotstableread{
x f m r
1 0.79 0.86 0.76
2 0.84 0.89 0.83
3 0.81 0.84 0.82
4 0.84 0.86 0.80
5 0.82 0.85 0.81
6 0.83 0.84 0.80
7 0.86 0.88 0.81
8 0.84 0.86 0.80
9 0.75 0.78 0.70
10 0.86 0.90 0.86
11 0.85 0.87 0.84
12 0.87 0.88 0.85
13 0.88 0.89 0.87
14 0.80 0.82 0.72
15 0.88 0.90 0.87
16 0.80 0.82 0.76
17 0.79 0.80 0.74
18 0.81 0.82 0.78
19 0.80 0.80 0.68
20 0.88 0.89 0.87
21 0.86 0.86 0.84
22 0.84 0.84 0.81
23 0.83 0.84 0.81
24 0.86 0.89 0.85
25 0.77 0.78 0.72
26 0.72 0.77 0.69
27 0.59 0.60 0.47
28 0.67 0.68 0.61
29 0.75 0.76 0.70
30 0.73 0.74 0.65
31 0.86 0.88 0.82
32 0.86 0.86 0.83
33 0.92 0.88 0.83
34 0.91 0.89 0.86
35 0.79 0.80 0.70
36 0.80 0.81 0.74
37 0.81 0.82 0.75
38 0.82 0.84 0.78
39 0.84 0.86 0.79
40 0.84 0.85 0.82
41 0.84 0.85 0.82
42 0.84 0.86 0.83
43 0.85 0.86 0.82
44 0.85 0.87 0.84
45 0.87 0.87 0.83
46 0.88 0.89 0.86
47 0.89 0.88 0.87
48 0.90 0.91 0.88
49 0.88 0.89 0.86
50 0.87 0.88 0.84
51 0.84 0.86 0.82
52 0.80 0.86 0.79
53 0.63 0.73 0.66
}\chrW

\pgfplotstableread{
x f m r
1 0.82 0.80 0.71
2 0.86 0.90 0.84
3 0.87 0.88 0.84
4 0.86 0.88 0.86
5 0.87 0.89 0.85
6 0.88 0.90 0.87
7 0.88 0.90 0.86
8 0.89 0.91 0.89
9 0.86 0.90 0.88
10 0.85 0.89 0.86
11 0.85 0.87 0.86
12 0.86 0.90 0.88
13 0.84 0.91 0.86
14 0.87 0.92 0.88
15 0.86 0.90 0.87
16 0.85 0.89 0.87
17 0.83 0.88 0.84
18 0.84 0.89 0.86
19 0.86 0.90 0.84
20 0.85 0.88 0.86
22 0.86 0.89 0.86
24 0.85 0.89 0.86
26 0.86 0.88 0.86
28 0.86 0.89 0.87
30 0.87 0.89 0.86
32 0.86 0.88 0.87
34 0.85 0.87 0.82
36 0.84 0.86 0.83
38 0.85 0.88 0.86
39 0.88 0.90 0.86
40 0.92 0.94 0.91
41 0.88 0.90 0.86
42 0.86 0.89 0.85
43 0.84 0.86 0.82
44 0.76 0.88 0.80
45 0.86 0.89 0.86
46 0.87 0.90 0.85
47 0.86 0.88 0.87
48 0.87 0.91 0.87
49 0.86 0.89 0.87
50 0.88 0.92 0.88
51 0.89 0.93 0.89
52 0.88 0.92 0.87
53 0.87 0.90 0.86
54 0.87 0.88 0.86
55 0.87 0.88 0.87
56 0.88 0.90 0.88
57 0.89 0.93 0.89
58 0.87 0.91 0.87
59 0.88 0.92 0.88
60 0.87 0.91 0.88
61 0.86 0.90 0.86
62 0.84 0.88 0.84
63 0.76 0.82 0.73
}\chrX

\pgfplotstableread{
x f m r
1 0.78 0.84 0.74
1.5 0.80 0.85 0.77
2 0.82 0.86 0.81
2.5 0.85 0.88 0.84
3 0.85 0.91 0.88
4 0.84 0.87 0.85
4.5 0.89 0.86 0.87
5 0.87 0.88 0.86
6 0.88 0.90 0.87
7 0.86 0.89 0.88
8 0.84 0.87 0.86
9 0.85 0.86 0.87
10 0.83 0.85 0.85
11 0.86 0.90 0.85
12 0.89 0.92 0.89
13 0.86 0.88 0.86
13.5 0.80 0.85 0.82
14 0.84 0.86 0.83
15 0.86 0.88 0.84
16 0.84 0.87 0.83
17 0.82 0.88 0.84
18 0.86 0.89 0.86
19 0.87 0.88 0.86
20 0.83 0.86 0.83
20.5 0.80 0.84 0.81
21 0.82 0.85 0.84
22 0.86 0.88 0.87
23 0.88 0.92 0.89
24 0.87 0.90 0.88
25 0.86 0.89 0.87
26 0.84 0.88 0.87
27 0.85 0.86 0.86
28 0.78 0.84 0.80
29 0.84 0.88 0.86
30 0.87 0.89 0.92
31 0.88 0.90 0.86
32 0.79 0.88 0.84
33 0.87 0.89 0.88
34 0.85 0.87 0.85
35 0.82 0.84 0.83
36 0.83 0.86 0.84
37 0.82 0.84 0.77
38 0.84 0.86 0.84
39 0.85 0.88 0.85
40 0.87 0.91 0.89
41 0.86 0.86 0.85
42 0.78 0.76 0.66
42.5 0.74 0.79 0.70
43 0.70 0.80 0.75
}\chrY

\pgfplotstableread{
x f m r
1 0.62 0.65 0.59
2 0.80 0.88 0.81
3 0.81 0.88 0.80
4 0.80 0.86 0.80
5 0.81 0.87 0.81
6 0.79 0.83 0.78
7 0.80 0.85 0.79
8 0.80 0.80 0.76
9 0.82 0.83 0.79
10 0.84 0.90 0.83
11 0.82 0.85 0.78
12 0.80 0.82 0.79
13 0.85 0.87 0.82
14 0.82 0.84 0.79
15 0.81 0.86 0.79
16 0.80 0.85 0.77
17 0.82 0.89 0.80
18 0.87 0.88 0.85
19 0.86 0.87 0.85
20 0.92 0.89 0.86
21 0.86 0.88 0.84
22 0.84 0.86 0.80
23 0.82 0.84 0.73
24 0.80 0.83 0.75
25 0.86 0.89 0.86
26 0.85 0.90 0.86
27 0.87 0.89 0.84
28 0.86 0.93 0.86
29 0.83 0.87 0.85
30 0.88 0.90 0.87
31 0.80 0.84 0.82
32 0.86 0.90 0.88
33 0.87 0.88 0.86
34 0.86 0.89 0.87
35 0.85 0.87 0.86
36 0.86 0.90 0.87
37 0.85 0.88 0.86
38 0.87 0.89 0.86
39 0.88 0.90 0.87
40 0.86 0.89 0.88
41 0.85 0.88 0.87
42 0.86 0.90 0.86
43 0.90 0.89 0.87
44 0.88 0.91 0.88
45 0.87 0.89 0.86
46 0.86 0.88 0.88
47 0.87 0.89 0.92
48 0.86 0.88 0.85
49 0.88 0.91 0.87
50 0.85 0.86 0.84
51 0.80 0.83 0.82
52 0.81 0.83 0.80
}\chrZ

\pgfplotstableread{
x f m r
1 0.73 0.77 0.69
2 0.86 0.88 0.85
3 0.86 0.87 0.86
4 0.87 0.89 0.87
5 0.91 0.93 0.91
6 0.80 0.86 0.79
7 0.54 0.52 0.44
8 0.80 0.84 0.81
9 0.87 0.90 0.87
10 0.84 0.88 0.85
11 0.81 0.87 0.86
12 0.82 0.86 0.84
13 0.84 0.86 0.83
14 0.85 0.86 0.85
15 0.84 0.84 0.82
16 0.87 0.88 0.85
17 0.88 0.89 0.87
18 0.86 0.87 0.86
19 0.84 0.85 0.82
20 0.87 0.88 0.86
21 0.86 0.89 0.84
22 0.80 0.84 0.83
23 0.85 0.88 0.85
24 0.86 0.87 0.84
25 0.84 0.86 0.83
26 0.86 0.88 0.84
27 0.85 0.87 0.86
28 0.88 0.89 0.86
29 0.87 0.88 0.85
30 0.79 0.84 0.83
31 0.88 0.90 0.87
32 0.87 0.89 0.86
33 0.88 0.88 0.86
34 0.86 0.89 0.87
35 0.86 0.88 0.84
36 0.92 0.93 0.91
37 0.89 0.90 0.88
38 0.88 0.91 0.89
39 0.86 0.89 0.87
40 0.86 0.88 0.85
41 0.84 0.85 0.83
42 0.84 0.86 0.80
43 0.86 0.85 0.78
44 0.87 0.88 0.86
45 0.88 0.89 0.81
46 0.90 0.90 0.85
}\chrAA

\pgfplotstableread{
x f m r
1 0.64 0.67 0.62
2 0.83 0.89 0.86
3 0.78 0.80 0.74
4 0.77 0.79 0.72
5 0.83 0.86 0.85
6 0.84 0.88 0.84
7 0.86 0.90 0.88
8 0.86 0.87 0.84
9 0.89 0.91 0.89
10 0.86 0.87 0.85
11 0.80 0.84 0.82
12 0.68 0.76 0.62
13 0.75 0.77 0.68
14 0.82 0.83 0.80
15 0.78 0.84 0.80
16 0.77 0.80 0.75
17 0.86 0.87 0.86
18 0.79 0.85 0.81
19 0.82 0.85 0.75
20 0.81 0.83 0.75
21 0.87 0.88 0.86
22 0.86 0.85 0.70
23 0.85 0.87 0.77
24 0.86 0.89 0.86
25 0.88 0.88 0.84
26 0.87 0.86 0.74
27 0.89 0.88 0.86
28 0.88 0.88 0.84
29 0.86 0.88 0.79
30 0.87 0.88 0.86
31 0.86 0.85 0.79
32 0.84 0.86 0.83
33 0.86 0.85 0.84
34 0.85 0.87 0.85
35 0.86 0.84 0.80
36 0.85 0.87 0.81
37 0.86 0.86 0.85
38 0.87 0.91 0.90
39 0.86 0.88 0.84
40 0.78 0.82 0.83
41 0.87 0.88 0.86
42 0.86 0.86 0.85
43 0.88 0.89 0.87
44 0.91 0.91 0.87
45 0.77 0.79 0.69
46 0.87 0.85 0.82
}\chrAB

\pgfplotstableread{
x f m r
1 0.51 0.61 0.41
2 0.88 0.87 0.82
3 0.86 0.87 0.84
4 0.85 0.86 0.83
5 0.86 0.87 0.82
6 0.57 0.61 0.55
7 0.87 0.88 0.86
8 0.87 0.89 0.86
9 0.88 0.90 0.88
10 0.85 0.88 0.82
11 0.86 0.89 0.81
12 0.87 0.85 0.83
13 0.84 0.84 0.81
14 0.88 0.89 0.85
15 0.86 0.88 0.84
16 0.85 0.86 0.81
17 0.84 0.86 0.82
18 0.84 0.87 0.81
19 0.85 0.90 0.81
20 0.84 0.91 0.86
21 0.83 0.88 0.84
22 0.84 0.91 0.86
23 0.84 0.91 0.87
24 0.86 0.92 0.87
25 0.84 0.87 0.81
26 0.86 0.88 0.89
27 0.86 0.89 0.84
28 0.84 0.80 0.73
29 0.84 0.84 0.78
30 0.86 0.87 0.82
31 0.88 0.91 0.89
32 0.84 0.88 0.85
33 0.84 0.86 0.81
34 0.86 0.87 0.84
35 0.88 0.91 0.88
36 0.87 0.87 0.85
37 0.86 0.87 0.83
38 0.78 0.85 0.76
39 0.77 0.75 0.65
40 0.80 0.81 0.75
41 0.84 0.85 0.82
42 0.77 0.79 0.67
43 0.88 0.89 0.84
44 0.86 0.89 0.87
45 0.84 0.84 0.71
46 0.85 0.84 0.82
47 0.82 0.83 0.80
48 0.84 0.86 0.80
49 0.83 0.85 0.79
50 0.72 0.76 0.69
51 0.86 0.88 0.82
52 0.42 0.49 0.55
}\chrAC

\begin{document}
\begin{tikzpicture}
\path[use as bounding box] (0,0) rectangle (60cm,30cm);
\panel{1.6}{25.34}{1}{-7.95}{166.95}{0,20,...,160}{10,30,...,150}{\chrA}
\panel{11.6}{25.34}{2}{-6.85}{143.85}{0,20,...,120}{10,30,...,130,140}{\chrB}
\panel{21.6}{25.34}{3}{-6.05}{127.05}{0,20,...,120}{10,30,...,110}{\chrC}
\panel{31.6}{25.34}{4}{-6}{126}{0,20,...,120}{10,30,...,110}{\chrD}
\panel{41.6}{25.34}{5}{-6.05}{127.05}{0,20,...,120}{10,30,...,110}{\chrE}
\panel{51.6}{25.34}{6}{-5.9}{123.9}{0,20,...,100}{10,30,...,110,120}{\chrF}
\panel{1.6}{19.34}{7}{-5.5}{115.5}{0,20,...,100}{10,30,...,110}{\chrG}
\panel{11.6}{19.34}{8}{-5.65}{118.65}{0,20,...,100}{10,30,...,110}{\chrH}
\panel{21.6}{19.34}{9}{-5.25}{110.25}{0,20,...,100}{10,30,...,110}{\chrI}
\panel{31.6}{19.34}{10}{-5.2}{109.2}{0,20,...,100}{10,30,...,90}{\chrJ}
\panel{41.6}{19.34}{11}{-5.35}{112.35}{0,20,...,100}{10,30,...,110}{\chrK}
\panel{51.6}{19.34}{12}{-4.35}{91.35}{0,10,...,80}{5,15,...,85,90}{\chrL}
\panel{1.6}{13.34}{13}{-4.2}{88.2}{0,10,...,80}{5,15,...,85}{\chrM}
\panel{11.6}{13.34}{14}{-4.15}{87.15}{0,10,...,80}{5,15,...,85}{\chrN}
\panel{21.6}{13.34}{15}{-4.25}{89.25}{0,10,...,80}{5,15,...,85}{\chrO}
\panel{31.6}{13.34}{16}{-4.05}{85.05}{0,10,...,80}{5,15,...,85}{\chrP}
\panel{41.6}{13.34}{17}{-3.7}{77.7}{0,10,...,70}{5,15,...,75}{\chrQ}
\panel{51.6}{13.34}{18}{-3.3}{69.3}{0,10,...,60}{5,15,...,65}{\chrR}
\panel{1.6}{7.34}{19}{-3.2}{67.2}{0,10,...,60}{5,15,...,65}{\chrS}
\panel{11.6}{7.34}{20}{-3.6}{75.6}{0,10,...,70}{5,15,...,75}{\chrT}
\panel{21.6}{7.34}{21}{-3.55}{74.55}{0,10,...,70}{5,15,...,65}{\chrU}
\panel{31.6}{7.34}{22}{-3.05}{64.05}{0,10,...,60}{5,15,...,55}{\chrV}
\panel{41.6}{7.34}{23}{-2.65}{55.65}{0,10,...,50}{5,15,...,55}{\chrW}
\panel{51.6}{7.34}{24}{-3.15}{66.15}{0,10,...,60}{5,15,...,65}{\chrX}
\panel{1.6}{1.34}{25}{-2.15}{45.15}{0,10,...,40}{5,15,...,45}{\chrY}
\panel{11.6}{1.34}{26}{-2.6}{54.6}{0,10,...,50}{5,15,...,45}{\chrZ}
\panel{21.6}{1.34}{27}{-2.3}{48.3}{0,10,...,40}{5,15,...,45}{\chrAA}
\panel{31.6}{1.34}{28}{-2.3}{48.3}{0,10,...,40}{5,15,...,45}{\chrAB}
\panel{41.6}{1.34}{29}{-2.6}{54.6}{0,10,...,50}{5,15,...,45}{\chrAC}
\end{tikzpicture}
\end{document}
